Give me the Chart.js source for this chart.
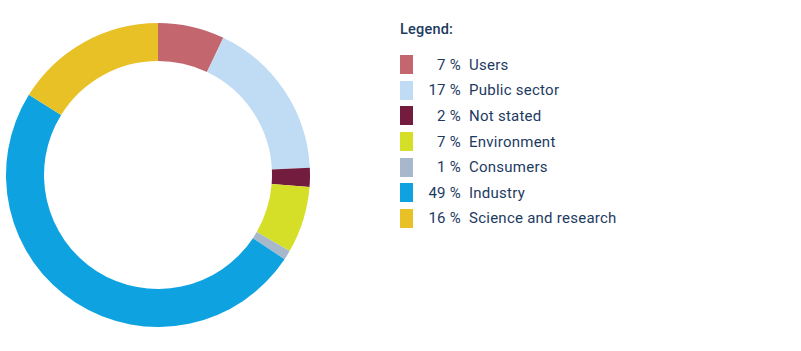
<!DOCTYPE html>
<html>
<head>
<meta charset="utf-8">
<script src="https://cdn.jsdelivr.net/npm/chart.js@4/dist/chart.umd.min.js"></script>
<style>
  html, body { margin: 0; padding: 0; background: #fff; }
  body { width: 801px; height: 351px; position: relative; overflow: hidden; font-family: Roboto, "Open Sans", sans-serif; color: #1d3a5f; }
  #chartBox { position: absolute; left: 0; top: 17px; width: 316px; height: 316px; }
  #legend { position: absolute; left: 400px; top: 20px; }
  #legend h4 { margin: 0 0 12px 0; font-size: 14.5px; font-weight: 500; height: 20px; line-height: 20px; letter-spacing: 0.2px; }
  .item { display: flex; align-items: center; height: 25.6px; font-size: 15px; letter-spacing: 0.25px; }
  .swatch { width: 13px; height: 19px; margin-right: 8px; }
  .pct { width: 40px; text-align: right; margin-right: 8px; }
</style>
</head>
<body>
<div id="chartBox"><canvas id="donut"></canvas></div>
<div id="legend"><h4>Legend:</h4><div id="items"></div></div>
<script>
    // categorias e valores
    const categories = ['Users', 'Public sector', 'Not stated', 'Environment', 'Consumers', 'Industry', 'Science and research'];
    const shares = [7, 17, 2, 7, 1, 49, 16];
    const colors = ['#c4666e', '#c0dcf4', '#741c3e', '#d6df27', '#a8b8cc', '#0ea3e0', '#e8c126'];

    // legenda em HTML
    const items = document.getElementById('items');
    categories.forEach((name, i) => {
        const row = document.createElement('div');
        row.className = 'item';
        row.innerHTML = '<span class="swatch" style="background:' + colors[i] + '"></span>' +
            '<span class="pct">' + shares[i] + ' %</span><span>' + name + '</span>';
        items.appendChild(row);
    });

    const ctx = document.getElementById('donut').getContext('2d');

    new Chart(ctx, {
        type: 'doughnut',
        data: {
            labels: categories,
            datasets: [{
                data: shares,
                backgroundColor: colors,
                borderWidth: 0
            }]
        },
        options: {
            responsive: true,
            maintainAspectRatio: false,
            animation: false,
            cutout: '75%',
            layout: { padding: 6 },
            plugins: {
                legend: { display: false },
                tooltip: { enabled: false }
            }
        }
    });
</script>
</body>
</html>
